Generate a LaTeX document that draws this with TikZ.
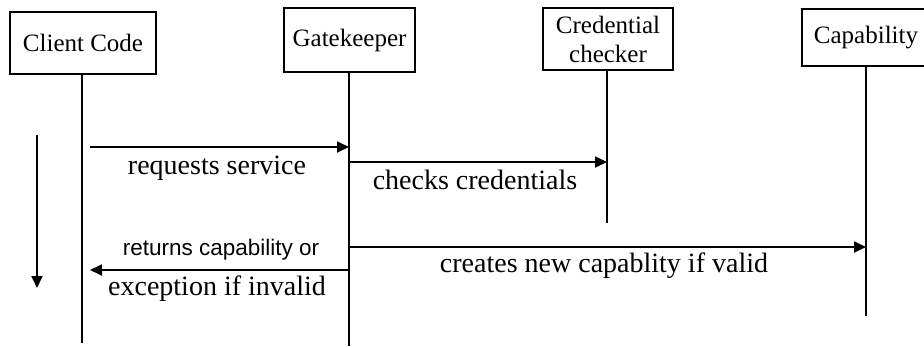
\documentclass[tikz,border=0pt]{standalone}
\usepackage{fontspec}
\setmainfont{Liberation Serif}
\setsansfont{Liberation Sans}
\usetikzlibrary{arrows.meta}
\begin{document}
\begin{tikzpicture}[x=1pt,y=-1pt,
  obj/.style={draw, line width=1.8pt, rectangle, inner sep=0pt, align=center,
    font=\fontsize{25}{29}\selectfont},
  life/.style={line width=1.8pt},
  msg/.style={line width=1.8pt, -{Triangle[length=12pt,width=11pt]}},
  lbl/.style={anchor=base, inner sep=0pt, font=\fontsize{28}{32}\selectfont},
  slbl/.style={anchor=base, inner sep=0pt, font=\sffamily\fontsize{22.5}{26}\selectfont}]
\useasboundingbox (0,0) rectangle (924,346);
% objects
\node[obj, minimum width=146pt, minimum height=62pt] (client) at (83,43) {Client Code};
\node[obj, minimum width=131pt, minimum height=64pt] (gate) at (349.5,40) {Gatekeeper};
\node[obj, minimum width=130pt, minimum height=62pt] (cred) at (608,39) {Credential\\checker};
\node[obj, minimum width=128pt, minimum height=57pt] (cap) at (866,37.5) {Capability};
% lifeline ends
\coordinate (clientEnd) at (82,343);
\coordinate (gateEnd) at (349,346);
\coordinate (credEnd) at (607,223);
\coordinate (capEnd) at (866,316);
\draw[life] (client.south -| clientEnd) -- (clientEnd);
\draw[life] (gate.south -| gateEnd) -- (gateEnd);
\draw[life] (cred.south -| credEnd) -- (credEnd);
\draw[life] (cap.south -| capEnd) -- (capEnd);
% message points
\coordinate (m1s) at (90,147);
\coordinate (m1e) at (349,147);
\coordinate (m2s) at (349,162);
\coordinate (m2e) at (607,162);
\coordinate (m3s) at (349,247);
\coordinate (m3e) at (866,247);
\coordinate (m4s) at (349,270);
\coordinate (m4e) at (90,270);
\coordinate (ts) at (37,135);
\coordinate (te) at (37,288);
\draw[msg] (m1s) -- (m1e);
\draw[msg] (m2s) -- (m2e);
\draw[msg] (m3s) -- (m3e);
\draw[msg] (m4s) -- (m4e);
\draw[msg] (ts) -- (te);
% labels
\node[lbl] (l1) at (217,174) {requests service};
\node[lbl] (l2) at (475,189) {checks credentials};
\node[lbl] (l3) at (604,272) {creates new capablity if valid};
\node[slbl] (l4) at (221,255) {returns capability or};
\node[lbl] (l5) at (217,295) {exception if invalid};
\end{tikzpicture}
\end{document}
